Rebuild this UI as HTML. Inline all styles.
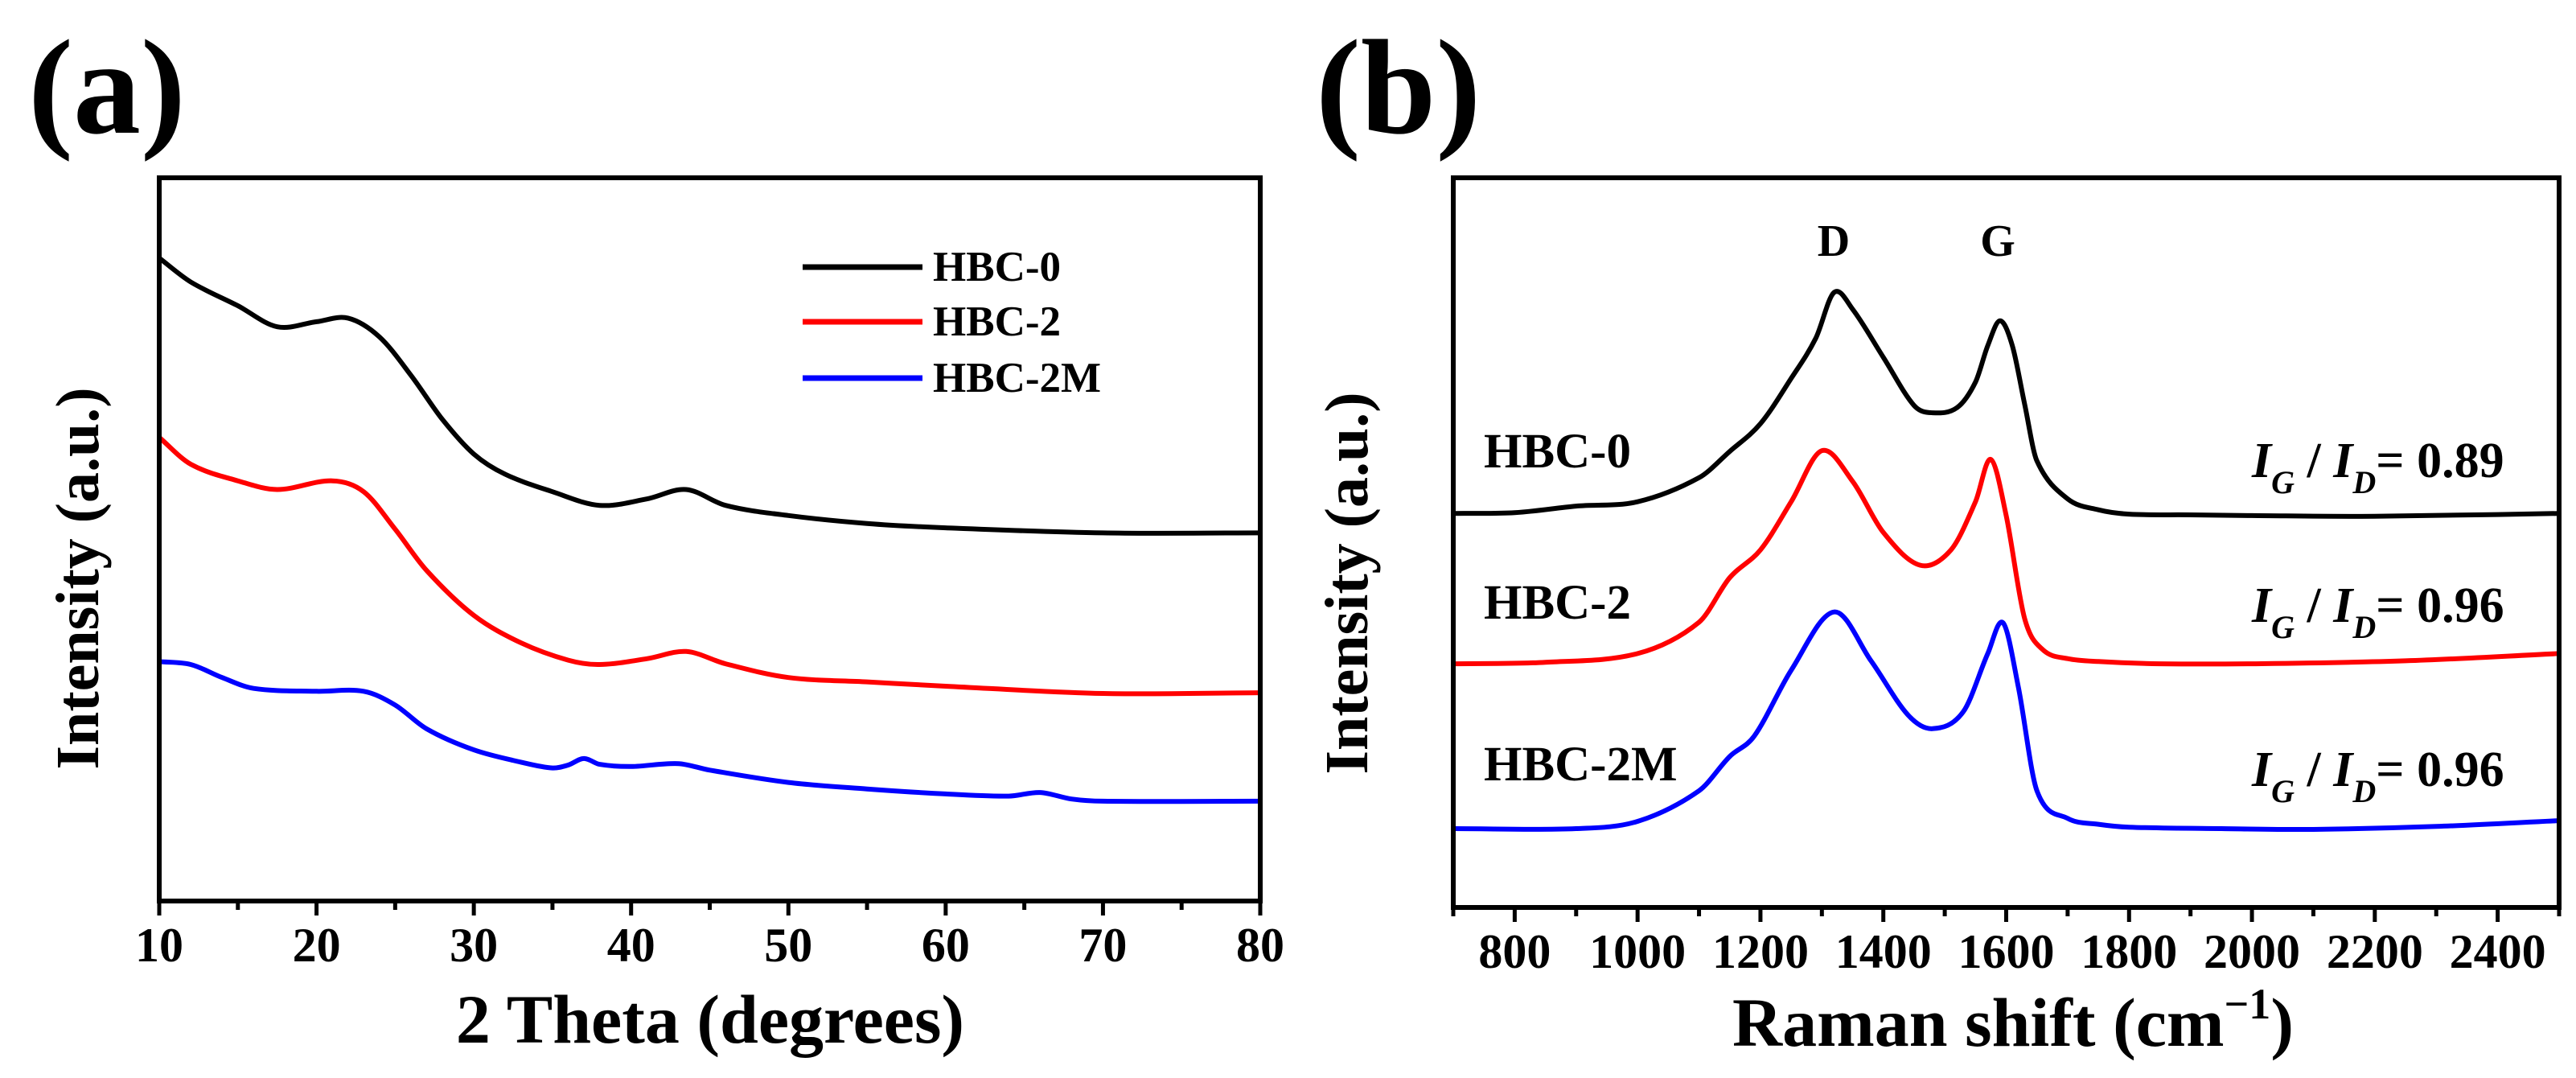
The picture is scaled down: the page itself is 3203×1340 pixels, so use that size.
<!DOCTYPE html>
<html><head><meta charset="utf-8">
<style>
html,body{margin:0;padding:0;background:#fff;}
svg{display:block;font-family:"Liberation Serif",serif;font-weight:bold;}
</style></head>
<body>
<svg id="fig" width="3203" height="1340" viewBox="0 0 3203 1340" xmlns="http://www.w3.org/2000/svg">
<g id="pa"></g>
<g id="pb"></g>
</svg>
<script>
// Panel (a) XRD data
const xrdX0 = [10,12,15,17.5,20,22,24,26,28,30,32,35,38,41,43.5,46,50,55,60,70,80];
const xrdY0 = [88.9,85.6,82.3,79.4,80.1,80.6,78,72.7,66.6,61.8,59,56.6,54.7,55.6,56.9,54.7,53.3,52.2,51.6,50.9,50.9];
const xrdX2 = [10,12,15,17.5,21,23,25,27,30,33,36,38,41,43.5,46,50,55,60,70,80];
const xrdY2 = [64.1,60.4,58.1,56.9,58.1,56.6,51.4,45.7,39.5,35.7,33.3,32.7,33.5,34.5,32.8,30.9,30.3,29.7,28.7,28.8];
const xrdX2M = [10,12,14,16,20,23,25,27,30,33,35,36,37,38,40,43,45,50,55,60,64,66,68,70,80];
const xrdY2M = [33.1,32.7,30.9,29.4,29,29,27.1,23.8,20.9,19.2,18.4,18.8,19.7,18.9,18.6,19,18.1,16.4,15.5,14.8,14.5,15,14.1,13.8,13.8];
const xrdTicks = [10,20,30,40,50,60,70,80];
// Panel (b) Raman data
const ramX0 = [700,800,900,1000,1100,1150,1200,1250,1290,1320,1350,1400,1450,1480,1520,1550,1570,1590,1610,1630,1650,1700,1750,1800,1900,2000,2200,2500];
const ramY0 = [54,54.1,55,55.6,58.9,62.5,66.3,72.5,78,84.3,82,75.4,68.8,67.8,68.5,72,77,80.4,77,69,61.2,56,54.5,53.9,53.8,53.7,53.6,54];
const ramX2 = [700,850,1000,1100,1150,1200,1250,1300,1350,1400,1460,1510,1550,1575,1600,1630,1660,1700,1750,1850,2000,2250,2500];
const ramY2 = [33.4,33.6,34.8,39.1,45.2,49,55.6,62.6,58.4,51.4,46.9,49,55.6,61.4,53.7,39.6,35.3,34.1,33.7,33.4,33.4,33.8,34.8];
const ramX2M = [700,900,1000,1100,1150,1190,1250,1320,1380,1440,1480,1530,1570,1595,1620,1650,1700,1750,1800,1950,2100,2300,2500];
const ramY2M = [10.8,10.8,11.8,16,20.7,23.5,32.5,40.5,33.8,26.4,24.5,26.8,34.8,39,30.1,16,12.2,11.4,11,10.8,10.7,11.1,11.9];
const ramTicks = [800,1000,1200,1400,1600,1800,2000,2200,2400];
const ratios = ["0.89","0.96","0.96"];
const names = ["HBC-0","HBC-2","HBC-2M"];
const colors = ["#000","#ff0000","#0000ff"];

const NS="http://www.w3.org/2000/svg";
function mk(parent,tag,attrs,text){const e=document.createElementNS(NS,tag);for(const k in attrs)e.setAttribute(k,attrs[k]);if(text!==undefined)e.textContent=text;parent.appendChild(e);return e;}
function pathFrom(xs,ys,sx,sy){
  const p=xs.map((x,i)=>[sx(x),sy(ys[i])]);
  let d="M"+p[0][0].toFixed(1)+","+p[0][1].toFixed(1);
  for(let i=0;i<p.length-1;i++){
    const p0=p[Math.max(0,i-1)],p1=p[i],p2=p[i+1],p3=p[Math.min(p.length-1,i+2)];
    // scale tangents by segment length to avoid kinks with uneven spacing
    const h=p2[0]-p1[0];
    const t1x=(p2[0]-p0[0])||1, t2x=(p3[0]-p1[0])||1;
    const m1=(p2[1]-p0[1])/t1x, m2=(p3[1]-p1[1])/t2x;
    const c1x=p1[0]+h/3,c1y=p1[1]+m1*h/3;
    const c2x=p2[0]-h/3,c2y=p2[1]-m2*h/3;
    d+=" C"+c1x.toFixed(1)+","+c1y.toFixed(1)+" "+c2x.toFixed(1)+","+c2y.toFixed(1)+" "+p2[0].toFixed(1)+","+p2[1].toFixed(1);
  }
  return d;
}

// ---- Panel A ----
const pa=document.getElementById('pa');
const aL=198,aR=1567,aT=221,aB=1120;
const ax=v=>aL+(v-10)/70*(aR-aL);
const ay=v=>aB-v/100*(aB-aT);
let t=mk(pa,'text',{x:35,y:165,'font-size':168});t.textContent='(a)';


const seriesA=[[xrdX0,xrdY0],[xrdX2,xrdY2],[xrdX2M,xrdY2M]];
seriesA.forEach((s,i)=>{
  const p=mk(pa,'path',{d:pathFrom(s[0],s[1],ax,ay),fill:'none',stroke:colors[i],'stroke-width':6,'stroke-linejoin':'round'});
  
  
});
for(let v=10;v<=80;v+=5){
  const major=v%10===0;
  const l=mk(pa,'line',{x1:ax(v),x2:ax(v),y1:aB,y2:aB+(major?18:11),stroke:'#000','stroke-width':5});
  
  
}
xrdTicks.forEach(v=>{
  const e=mk(pa,'text',{x:ax(v),y:1195,'font-size':60,'text-anchor':'middle'},String(v));
  
  
});
let fa=mk(pa,'rect',{x:aL,y:aT,width:aR-aL,height:aB-aT,fill:'none',stroke:'#000','stroke-width':6});


let xta=mk(pa,'text',{x:883,y:1296,'font-size':86,'text-anchor':'middle'},'2 Theta (degrees)');


let yta=mk(pa,'text',{x:0,y:0,'font-size':76,'text-anchor':'middle',transform:'translate(122,719) rotate(-90)'},'Intensity (a.u.)');


const legY=[332,400,470];
names.forEach((n,i)=>{
  const l=mk(pa,'line',{x1:998,x2:1147,y1:legY[i],y2:legY[i],stroke:colors[i],'stroke-width':7});
  
  
  const e=mk(pa,'text',{x:1160,y:legY[i]+17,'font-size':53},n);
  
  
});

// ---- Panel B ----
const pb=document.getElementById('pb');
const bL=1807,bR=3182,bT=221,bB=1128;
const bx=v=>bL+(v-700)/1800*(bR-bL);
const by=v=>bB-v/100*(bB-bT);
let tb=mk(pb,'text',{x:1636,y:165,'font-size':168},'(b)');


const seriesB=[[ramX0,ramY0],[ramX2,ramY2],[ramX2M,ramY2M]];
seriesB.forEach((s,i)=>{
  const p=mk(pb,'path',{d:pathFrom(s[0],s[1],bx,by),fill:'none',stroke:colors[i],'stroke-width':6,'stroke-linejoin':'round'});
  
  
});
for(let v=700;v<=2500;v+=100){
  const major=v%200===0;
  const l=mk(pb,'line',{x1:bx(v),x2:bx(v),y1:bB,y2:bB+(major?18:11),stroke:'#000','stroke-width':5});
  
  
}
ramTicks.forEach(v=>{
  const e=mk(pb,'text',{x:bx(v),y:1203,'font-size':60,'text-anchor':'middle'},String(v));
  
  
});
let fb=mk(pb,'rect',{x:bL,y:bT,width:bR-bL,height:bB-bT,fill:'none',stroke:'#000','stroke-width':6});


let xtb=mk(pb,'text',{x:2503,y:1300,'font-size':86,'text-anchor':'middle'});


xtb.innerHTML='Raman shift (cm<tspan font-size="54" dy="-34">−1</tspan><tspan dy="34">)</tspan>';
let ytb=mk(pb,'text',{x:0,y:0,'font-size':76,'text-anchor':'middle',transform:'translate(1700,725) rotate(-90)'},'Intensity (a.u.)');


let dl=mk(pb,'text',{x:2280,y:318,'font-size':56,'text-anchor':'middle'},'D');


let gl=mk(pb,'text',{x:2484,y:318,'font-size':56,'text-anchor':'middle'},'G');


const nameY=[581,769,970];
const ratioY=[593,773,977];
names.forEach((n,i)=>{
  const e=mk(pb,'text',{x:1845,y:nameY[i],'font-size':61},n);
  
  
  const r=mk(pb,'text',{x:2800,y:ratioY[i],'font-size':62});
  
  
  r.innerHTML='<tspan font-style="italic">I</tspan><tspan font-style="italic" font-size="40" dy="20">G</tspan><tspan dy="-20"> / </tspan><tspan font-style="italic">I</tspan><tspan font-style="italic" font-size="40" dy="20">D</tspan><tspan dy="-20">= '+ratios[i]+'</tspan>';
});
</script>
</body></html>
